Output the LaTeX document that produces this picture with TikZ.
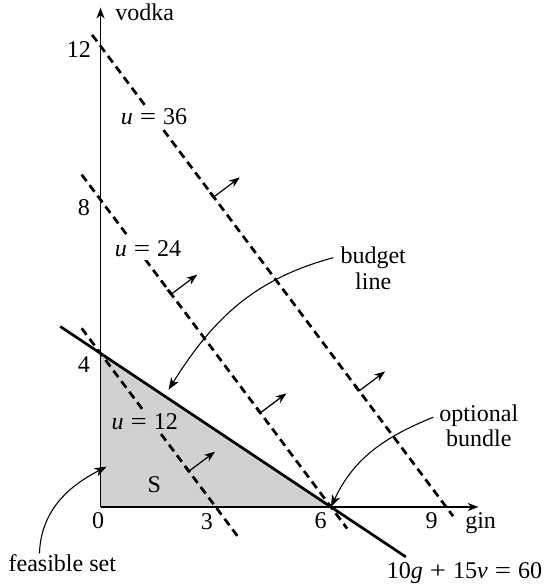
\documentclass[tikz,border=0pt]{standalone}
\usepackage{fontspec}
\setmainfont{Liberation Serif}
\usetikzlibrary{arrows.meta,calc}
\newcommand{\wsp}{\hspace{0.29em}}
\newcommand{\meq}{\scalebox{1.2}[1]{=}}
\newcommand{\mplus}{\scalebox{1.2}[1]{+}}
\begin{document}
\begin{tikzpicture}[x=1cm,y=1cm,
  lbl/.style={font=\fontsize{17.8}{20}\selectfont, inner sep=0pt},
  ulbl/.style={lbl, fill=white, inner xsep=1pt, inner ysep=2.5pt},
  axis/.style={line width=1.1pt, -{Stealth[length=8pt,width=6pt,inset=2.5pt]}},
  ucurve/.style={line width=2pt, dash pattern=on 6pt off 3.8pt},
  budgetline/.style={line width=2pt},
  dirarrow/.style={line width=0.9pt, -{Stealth[length=8pt,width=6pt,inset=2.5pt]}},
  basebit/.style={line width=2pt},
  callout/.style={line width=0.8pt, -{Stealth[length=9pt,width=6.5pt,inset=2.5pt]}},
]
\useasboundingbox (-2.617,-2.109) rectangle (11.55,13.20);
% feasible set
\coordinate (O) at (0,0);
\coordinate (V4) at (0,4);
\coordinate (G6) at (6,0);
\fill[black!18] (O) -- (V4) -- (G6) -- cycle;
% axes
\coordinate (xend) at (9.84,0);
\coordinate (yend) at (0,13.0);
\draw[axis] (O) -- (xend);
\draw[axis] (O) -- (yend);
% indifference lines u = 4g + 3v
\coordinate (a12) at (-0.49,4.653);
\coordinate (b12) at (3.59,-0.787);
\coordinate (a24) at (-0.49,8.653);
\coordinate (b24) at (6.42,-0.56);
\coordinate (a36) at (-0.22,12.293);
\coordinate (b36) at (9.18,-0.24);
\draw[ucurve] (a12) -- (b12);
\draw[ucurve] (a24) -- (b24);
\draw[ucurve] (a36) -- (b36);
% direction arrows
\foreach \n/\bx/\by in {p12/2.30/0.93, p24a/1.84/5.54, p24b/4.16/2.45, p36a/2.945/8.07, p36b/6.73/3.02}{
  \coordinate (\n) at (\bx,\by);
  \coordinate (\n t) at ($(\bx,\by)+(0.68,0.51)$);
  \coordinate (\n s) at ($(\bx,\by)+(-0.09,0.12)$);
  \draw[basebit] (\n s) -- (\n);
  \draw[dirarrow] (\n) -- (\n t);
}
% utility labels (white background interrupts the dashed lines)
\node[ulbl, anchor=base west] (u36) at (0.49,9.95) {\textit{u}\wsp\meq\wsp36};
\node[ulbl, anchor=base west] (u24) at (0.33,6.52) {\textit{u}\wsp\meq\wsp24};
% budget line
\coordinate (bl0) at (-1.05,4.70);
\coordinate (bl1) at (7.95,-1.30);
\draw[budgetline] (bl0) -- (bl1);
\node[ulbl, fill=black!18, anchor=base west] (u12) at (0.25,2.02) {\textit{u}\wsp\meq\wsp12};
% labels
\node[lbl, anchor=base west] (vodka) at (0.38,12.66) {vodka};
\node[lbl, anchor=base] (l12) at (-0.565,11.71) {12};
\node[lbl, anchor=base] (l8) at (-0.435,7.60) {8};
\node[lbl, anchor=base] (l4) at (-0.435,3.50) {4};
\node[lbl, anchor=base] (l0) at (-0.06,-0.555) {0};
\node[lbl, anchor=base] (l3) at (2.77,-0.58) {3};
\node[lbl, anchor=base] (l6) at (5.73,-0.555) {6};
\node[lbl, anchor=base] (l9) at (8.62,-0.555) {9};
\node[lbl, anchor=base west] (gin) at (9.49,-0.555) {gin};
\node[lbl, anchor=base] (S) at (1.40,0.38) {S};
\node[lbl, anchor=base west] (feas) at (-2.40,-1.68) {feasible set};
\node[lbl, anchor=base west] (eq) at (7.45,-1.86) {10\textit{g}\wsp\mplus\wsp15\textit{v}\wsp\meq\wsp60};
\node[lbl, anchor=base] (budget) at (7.10,6.35) {budget};
\node[lbl, anchor=base] (bline) at (7.10,5.65) {line};
\node[lbl, anchor=base] (optional) at (9.85,2.22) {optional};
\node[lbl, anchor=base] (bundle) at (9.85,1.57) {bundle};
% callouts
\coordinate (cb0) at (6.06,6.49);
\coordinate (cb1) at (1.77,3.05);
\draw[callout] (cb0) to[out=195,in=58] (cb1);
\coordinate (co0) at (8.67,2.34);
\draw[callout] (co0) to[out=202,in=65] (G6);
\coordinate (cf0) at (-1.59,-1.21);
\coordinate (cf1) at (0.16,1.05);
\draw[callout] (cf0) to[out=88,in=207] (cf1);
\end{tikzpicture}
\end{document}
